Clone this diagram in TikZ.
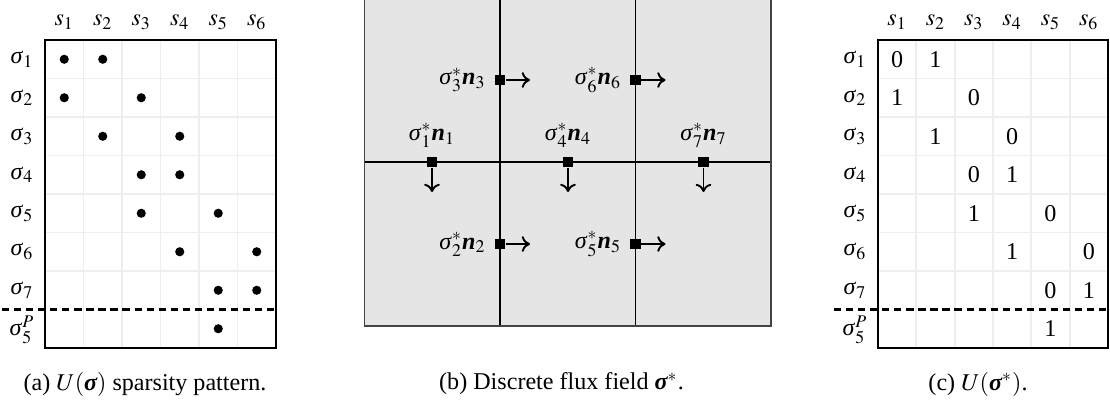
\documentclass[tikz,border=0pt]{standalone}
\usepackage{mathptmx}
\usepackage{fontspec}
\setmainfont{Liberation Serif}
\usetikzlibrary{positioning,arrows.meta}
\newcommand{\sig}{\mbox{\itshape σ\/}}
\newcommand{\bsig}{\mbox{\bfseries\itshape σ}}
\newcommand{\bn}{\mbox{\bfseries\itshape n}}
\definecolor{cellgrey}{HTML}{E5E5E5}
\definecolor{gridgrey}{HTML}{EEEEEE}
\definecolor{framegrey}{HTML}{444444}
\tikzset{
  gridline/.style={draw=gridgrey, line width=0.75pt},
  framebox/.style={draw=black, line width=0.95pt},
  sepline/.style={draw=black, line width=0.85pt, dash pattern=on 3pt off 2pt},
  dotmark/.style={circle, fill=black, minimum size=3.8pt, inner sep=0pt},
  valmark/.style={inner sep=0pt, font=\normalsize},
  lbl/.style={inner sep=0pt},
  sq/.style={rectangle, fill=black, minimum size=4.4pt, inner sep=0pt},
  flux/.style={-{To[length=3.4pt,width=6.5pt]}, line width=0.8pt},
  capt/.style={inner sep=0pt, anchor=center}
}
\begin{document}
\begin{tikzpicture}[x=0.415pt,y=-0.415pt]
\useasboundingbox (0,0) rectangle (1110,403);

% ---------------- panel (a) ----------------
\foreach \i in {1,...,5} \draw[gridline] ({45+\i*38.5},40) -- ({45+\i*38.5},348);
\foreach \j in {1,...,6} \draw[gridline] (45,{40+\j*38.5}) -- (276,{40+\j*38.5});
\draw[sepline] (2,309.5) -- (276,309.5);
\draw[framebox] (45,40) rectangle (276,348);
\foreach \i in {1,...,6} \node[lbl] (as\i) at ({45+(\i-0.5)*38.5},22) {$s_{\i}$};
\foreach \j in {1,...,7} \node[lbl] (ar\j) at (22,{40+(\j-0.5)*38.5}) {$\sig_{\j}$};
\node[lbl] (ar8) at (22,329.5) {$\sig_{5}^{P}$};
\foreach \c/\r [count=\k] in {1/1,2/1,1/2,3/2,2/3,4/3,3/4,4/4,3/5,5/5,4/6,6/6,5/7,6/7,5/8}
  \node[dotmark] (ad\k) at ({45+(\c-0.5)*38.5},{40+(\r-0.5)*38.5}) {};
\node[capt] (capa) at (145,384) {(a) $U(\bsig)$ sparsity pattern.};

% ---------------- panel (b) ----------------
\fill[cellgrey] (364.5,-2) rectangle (771,326);
\draw[black, line width=0.45pt] (500,-2) -- (500,326);
\draw[black, line width=0.45pt] (635.5,-2) -- (635.5,326);
\draw[black, line width=0.45pt] (364.5,162) -- (771,162);
\draw[framegrey, line width=0.65pt] (364.5,-2) -- (364.5,326) -- (771,326) -- (771,-2);

\coordinate (e1) at (432,192);
\coordinate (e4) at (568,192);
\coordinate (e7) at (703.5,192);
\coordinate (e3) at (530,80);
\coordinate (e6) at (665.5,80);
\coordinate (e2) at (530,244);
\coordinate (e5) at (665.5,244);

\node[sq] (q1) at (432,162) {};
\node[sq] (q4) at (568,162) {};
\node[sq] (q7) at (703.5,162) {};
\node[sq] (q3) at (500,80) {};
\node[sq] (q6) at (635.5,80) {};
\node[sq] (q2) at (500,244) {};
\node[sq] (q5) at (635.5,244) {};

\foreach \k in {1,...,7} \draw[flux] (q\k) -- (e\k);

\node[anchor=south] (l1) at (q1.north) {$\sig^{*}_{1}\bn_{1}$};
\node[anchor=south] (l4) at (q4.north) {$\sig^{*}_{4}\bn_{4}$};
\node[anchor=south] (l7) at (q7.north) {$\sig^{*}_{7}\bn_{7}$};
\node[anchor=east] (l3) at (q3.west) {$\sig^{*}_{3}\bn_{3}$};
\node[anchor=east] (l6) at (q6.west) {$\sig^{*}_{6}\bn_{6}$};
\node[anchor=east] (l2) at (q2.west) {$\sig^{*}_{2}\bn_{2}$};
\node[anchor=east] (l5) at (q5.west) {$\sig^{*}_{5}\bn_{5}$};
\node[capt] (capb) at (561.5,384) {(b) Discrete flux field $\bsig^{*}$.};

% ---------------- panel (c) ----------------
\foreach \i in {1,...,5} \draw[gridline] ({878+\i*38.33},40) -- ({878+\i*38.33},348);
\foreach \j in {1,...,6} \draw[gridline] (878,{40+\j*38.5}) -- (1108,{40+\j*38.5});
\draw[sepline] (834,309.5) -- (1108,309.5);
\draw[framebox] (878,40) rectangle (1108,348);
\foreach \i in {1,...,6} \node[lbl] (cs\i) at ({878+(\i-0.5)*38.33},22) {$s_{\i}$};
\foreach \j in {1,...,7} \node[lbl] (cr\j) at (855,{40+(\j-0.5)*38.5}) {$\sig_{\j}$};
\node[lbl] (cr8) at (855,329.5) {$\sig_{5}^{P}$};
\foreach \c/\r/\v [count=\k] in {1/1/0,2/1/1,1/2/1,3/2/0,2/3/1,4/3/0,3/4/0,4/4/1,3/5/1,5/5/0,4/6/1,6/6/0,5/7/0,6/7/1,5/8/1}
  \node[valmark] (cv\k) at ({878+(\c-0.5)*38.33},{40+(\r-0.5)*38.5}) {\v};
\node[capt] (capc) at (978,384) {(c) $U(\bsig^{*})$.};
\end{tikzpicture}
\end{document}
